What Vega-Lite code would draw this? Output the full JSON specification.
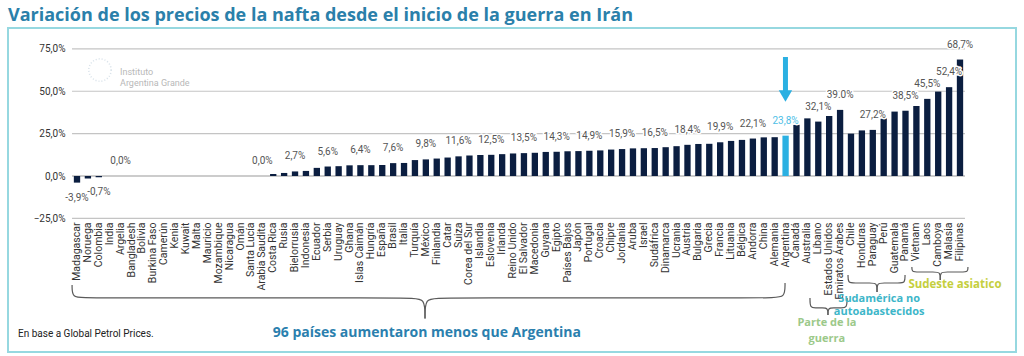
{
  "$schema": "https://vega.github.io/schema/vega-lite/v6.json",
  "width": 1008,
  "height": 324,
  "autosize": {"type": "none"},
  "padding": {"left": 8, "top": 28, "right": 8, "bottom": 4},
  "background": "white",
  "title": {
    "text": "Variación de los precios de la nafta desde el inicio de la guerra en Irán",
    "anchor": "start",
    "frame": "group",
    "font": "Open Sans",
    "fontSize": 18,
    "fontWeight": "bold",
    "color": "#2a80aa",
    "offset": 3
  },
  "config": {
    "view": {"stroke": "#96d8e0", "strokeWidth": 2},
    "axis": {"labelFont": "Roboto", "labelColor": "#333333"}
  },
  "data": {"values": [{}]},
  "datasets": {
    "paises": [
      {"pais": "Madagascar", "valor": -3.9, "etiqueta": "-3,9%"},
      {"pais": "Noruega", "valor": -1.5},
      {"pais": "Colombia", "valor": -0.7, "etiqueta": "-0,7%"},
      {"pais": "India", "valor": 0},
      {"pais": "Argelia", "valor": 0, "etiqueta": "0,0%"},
      {"pais": "Bangladesh", "valor": 0},
      {"pais": "Bolivia", "valor": 0},
      {"pais": "Burkina Faso", "valor": 0},
      {"pais": "Camerún", "valor": 0},
      {"pais": "Kenia", "valor": 0},
      {"pais": "Kuwait", "valor": 0},
      {"pais": "Malta", "valor": 0},
      {"pais": "Mauricio", "valor": 0},
      {"pais": "Mozambique", "valor": 0},
      {"pais": "Nicaragua", "valor": 0},
      {"pais": "Omán", "valor": 0},
      {"pais": "Santa Lucía", "valor": 0},
      {"pais": "Arabia Saudita", "valor": 0, "etiqueta": "0,0%"},
      {"pais": "Costa Rica", "valor": 1.2},
      {"pais": "Rusia", "valor": 1.8},
      {"pais": "Bielorrusia", "valor": 2.7, "etiqueta": "2,7%"},
      {"pais": "Indonesia", "valor": 3.0},
      {"pais": "Ecuador", "valor": 4.8},
      {"pais": "Serbia", "valor": 5.6, "etiqueta": "5,6%"},
      {"pais": "Uruguay", "valor": 5.8},
      {"pais": "Ghana", "valor": 6.3},
      {"pais": "Islas Caimán", "valor": 6.4, "etiqueta": "6,4%"},
      {"pais": "Hungría", "valor": 6.4},
      {"pais": "España", "valor": 6.5},
      {"pais": "Brasil", "valor": 7.6, "etiqueta": "7,6%"},
      {"pais": "Italia", "valor": 7.7},
      {"pais": "Turquía", "valor": 9.4},
      {"pais": "México", "valor": 9.8, "etiqueta": "9,8%"},
      {"pais": "Finlandia", "valor": 10.3},
      {"pais": "Catar", "valor": 10.9},
      {"pais": "Suiza", "valor": 11.6, "etiqueta": "11,6%"},
      {"pais": "Corea del Sur", "valor": 12.1},
      {"pais": "Islandia", "valor": 12.4},
      {"pais": "Eslovenia", "valor": 12.5, "etiqueta": "12,5%"},
      {"pais": "Irlanda", "valor": 12.9},
      {"pais": "Reino Unido", "valor": 13.3},
      {"pais": "El Salvador", "valor": 13.5, "etiqueta": "13,5%"},
      {"pais": "Macedonia", "valor": 13.7},
      {"pais": "Guyana", "valor": 14.2},
      {"pais": "Egipto", "valor": 14.3, "etiqueta": "14,3%"},
      {"pais": "Países Bajos", "valor": 14.6},
      {"pais": "Japón", "valor": 14.7},
      {"pais": "Portugal", "valor": 14.9, "etiqueta": "14,9%"},
      {"pais": "Croacia", "valor": 15.1},
      {"pais": "Chipre", "valor": 15.6},
      {"pais": "Jordania", "valor": 15.9, "etiqueta": "15,9%"},
      {"pais": "Aruba", "valor": 16.3},
      {"pais": "Israel", "valor": 16.4},
      {"pais": "Sudáfrica", "valor": 16.5, "etiqueta": "16,5%"},
      {"pais": "Dinamarca", "valor": 17.0},
      {"pais": "Ucrania", "valor": 17.6},
      {"pais": "Austria", "valor": 18.4, "etiqueta": "18,4%"},
      {"pais": "Bulgaria", "valor": 18.9},
      {"pais": "Grecia", "valor": 19.0},
      {"pais": "Francia", "valor": 19.9, "etiqueta": "19,9%"},
      {"pais": "Lituania", "valor": 20.7},
      {"pais": "Bélgica", "valor": 21.3},
      {"pais": "Andorra", "valor": 22.1, "etiqueta": "22,1%"},
      {"pais": "China", "valor": 22.8},
      {"pais": "Alemania", "valor": 22.9},
      {"pais": "Argentina", "valor": 23.8, "etiqueta": "23,8%"},
      {"pais": "Canadá", "valor": 30.2},
      {"pais": "Australia", "valor": 34.0},
      {"pais": "Líbano", "valor": 32.1, "etiqueta": "32,1%"},
      {"pais": "Estados Unidos", "valor": 35.4},
      {"pais": "Emiratos Árabes", "valor": 39.0, "etiqueta": "39.0%"},
      {"pais": "Chile", "valor": 25.0},
      {"pais": "Honduras", "valor": 26.9},
      {"pais": "Paraguay", "valor": 27.2, "etiqueta": "27,2%"},
      {"pais": "Perú", "valor": 34.0},
      {"pais": "Guatemala", "valor": 38.0},
      {"pais": "Panamá", "valor": 38.5, "etiqueta": "38,5%"},
      {"pais": "Vietnam", "valor": 41.3},
      {"pais": "Laos", "valor": 45.5, "etiqueta": "45,5%"},
      {"pais": "Camboya", "valor": 49.8},
      {"pais": "Malasia", "valor": 52.4, "etiqueta": "52,4%"},
      {"pais": "Filipinas", "valor": 68.7, "etiqueta": "68,7%"}
    ],
    "llaves": [
      {"tramo": "g1", "orden": 1, "i": 0.55, "v": -64.3},
      {"tramo": "g1", "orden": 2, "i": 0.55, "v": -71.9},
      {"tramo": "g1", "orden": 3, "i": 1.75, "v": -71.9},
      {"tramo": "g1", "orden": 4, "i": 31.7, "v": -71.9},
      {"tramo": "g1", "orden": 5, "i": 32.93, "v": -71.9},
      {"tramo": "g1", "orden": 6, "i": 32.93, "v": -84},
      {"tramo": "g2", "orden": 1, "i": 32.93, "v": -84},
      {"tramo": "g2", "orden": 2, "i": 32.93, "v": -71.9},
      {"tramo": "g2", "orden": 3, "i": 34.15, "v": -71.9},
      {"tramo": "g2", "orden": 4, "i": 64.76, "v": -71.9},
      {"tramo": "g2", "orden": 5, "i": 65.96, "v": -71.9},
      {"tramo": "g2", "orden": 6, "i": 65.96, "v": -63.1},
      {"tramo": "p1", "orden": 1, "i": 68.25, "v": -71.9},
      {"tramo": "p1", "orden": 2, "i": 68.25, "v": -77.8},
      {"tramo": "p1", "orden": 3, "i": 68.75, "v": -77.8},
      {"tramo": "p1", "orden": 4, "i": 69.4, "v": -77.8},
      {"tramo": "p1", "orden": 5, "i": 69.9, "v": -77.8},
      {"tramo": "p1", "orden": 6, "i": 69.9, "v": -82},
      {"tramo": "p2", "orden": 1, "i": 69.9, "v": -82},
      {"tramo": "p2", "orden": 2, "i": 69.9, "v": -77.8},
      {"tramo": "p2", "orden": 3, "i": 70.4, "v": -77.8},
      {"tramo": "p2", "orden": 4, "i": 71.15, "v": -77.8},
      {"tramo": "p2", "orden": 5, "i": 71.65, "v": -77.8},
      {"tramo": "p2", "orden": 6, "i": 71.65, "v": -71.9},
      {"tramo": "s1", "orden": 1, "i": 71.74, "v": -58.4},
      {"tramo": "s1", "orden": 2, "i": 71.74, "v": -63.1},
      {"tramo": "s1", "orden": 3, "i": 72.24, "v": -63.1},
      {"tramo": "s1", "orden": 4, "i": 73.9, "v": -63.1},
      {"tramo": "s1", "orden": 5, "i": 74.4, "v": -63.1},
      {"tramo": "s1", "orden": 6, "i": 74.4, "v": -68.4},
      {"tramo": "s2", "orden": 1, "i": 74.4, "v": -68.4},
      {"tramo": "s2", "orden": 2, "i": 74.4, "v": -63.1},
      {"tramo": "s2", "orden": 3, "i": 74.9, "v": -63.1},
      {"tramo": "s2", "orden": 4, "i": 76.47, "v": -63.1},
      {"tramo": "s2", "orden": 5, "i": 76.97, "v": -63.1},
      {"tramo": "s2", "orden": 6, "i": 76.97, "v": -58.4},
      {"tramo": "a1", "orden": 1, "i": 77.6, "v": -53.7},
      {"tramo": "a1", "orden": 2, "i": 77.6, "v": -56.6},
      {"tramo": "a1", "orden": 3, "i": 78.1, "v": -56.6},
      {"tramo": "a1", "orden": 4, "i": 79.7, "v": -56.6},
      {"tramo": "a1", "orden": 5, "i": 80.2, "v": -56.6},
      {"tramo": "a1", "orden": 6, "i": 80.2, "v": -61.3},
      {"tramo": "a2", "orden": 1, "i": 80.2, "v": -61.3},
      {"tramo": "a2", "orden": 2, "i": 80.2, "v": -56.6},
      {"tramo": "a2", "orden": 3, "i": 80.7, "v": -56.6},
      {"tramo": "a2", "orden": 4, "i": 82.24, "v": -56.6},
      {"tramo": "a2", "orden": 5, "i": 82.74, "v": -56.6},
      {"tramo": "a2", "orden": 6, "i": 82.74, "v": -53.7}
    ]
  },
  "layer": [
    {
      "layer": [
        {
          "data": {"values": [{"g": -25}, {"g": 25}, {"g": 50}, {"g": 75}]},
          "mark": {"type": "rule", "color": "#c4c4c4", "strokeWidth": 1.2},
          "encoding": {
            "x": {"datum": 0.545, "type": "quantitative", "scale": {"domain": [-5.329, 87.151], "nice": false, "zero": false}, "axis": null},
            "x2": {"datum": 82.47},
            "y": {
              "field": "g",
              "type": "quantitative",
              "scale": {"domain": [-103.8, 87.3], "nice": false, "zero": false},
              "axis": {
                "values": [-25, 0, 25, 50, 75],
                "labelExpr": "replace(format(datum.value, '.1f'), '.', ',') + '%'",
                "offset": -60,
                "title": null,
                "labelFontSize": 10,
                "labelPadding": 3,
                "tickSize": 0,
                "ticks": false,
                "domain": false,
                "grid": false
              }
            }
          }
        },
        {
          "mark": {"type": "rule", "color": "#9a9a9a", "strokeWidth": 1.2},
          "encoding": {
            "x": {"datum": 0.545, "type": "quantitative"},
            "x2": {"datum": 82.47},
            "y": {"datum": 0, "type": "quantitative"}
          }
        },
        {
          "data": {"name": "llaves"},
          "mark": {"type": "line", "interpolate": "basis", "color": "#5a5a5a", "strokeWidth": 1.2},
          "encoding": {
            "x": {"field": "i", "type": "quantitative"},
            "y": {"field": "v", "type": "quantitative"},
            "detail": {"field": "tramo"},
            "order": {"field": "orden", "type": "quantitative"}
          }
        },
        {
          "mark": {"type": "rule", "color": "#2bb0e2", "strokeWidth": 5},
          "encoding": {
            "x": {"datum": 66, "type": "quantitative"},
            "y": {"datum": 70.2, "type": "quantitative"},
            "y2": {"datum": 48.5}
          }
        },
        {
          "mark": {"type": "point", "shape": "triangle-down", "filled": true, "color": "#2bb0e2", "size": 180, "opacity": 1},
          "encoding": {
            "x": {"datum": 66, "type": "quantitative"},
            "y": {"datum": 47.2, "type": "quantitative"}
          }
        },
        {
          "mark": {"type": "point", "shape": "circle", "filled": false, "stroke": "#c9d7e2", "strokeWidth": 1.5, "strokeDash": [1, 2], "size": 500},
          "encoding": {
            "x": {"datum": 3.11, "type": "quantitative"},
            "y": {"datum": 62.5, "type": "quantitative"}
          }
        },
        {
          "mark": {"type": "text", "text": ["Instituto", "Argentina Grande"], "align": "left", "baseline": "middle", "font": "Roboto", "fontSize": 9, "color": "#b8b8b8", "lineHeight": 11},
          "encoding": {
            "x": {"datum": 4.95, "type": "quantitative"},
            "y": {"datum": 61.6, "type": "quantitative"}
          }
        },
        {
          "mark": {"type": "text", "text": "96 países aumentaron menos que Argentina", "align": "center", "baseline": "middle", "font": "Open Sans", "fontSize": 14, "fontWeight": "bold", "color": "#2b7fae"},
          "encoding": {
            "x": {"datum": 33.1, "type": "quantitative"},
            "y": {"datum": -92.6, "type": "quantitative"}
          }
        },
        {
          "mark": {"type": "text", "text": "En base a Global Petrol Prices.", "align": "left", "baseline": "middle", "font": "Roboto", "fontSize": 10, "color": "#222222"},
          "encoding": {
            "x": {"datum": -4.41, "type": "quantitative"},
            "y": {"datum": -93.2, "type": "quantitative"}
          }
        },
        {
          "mark": {"type": "text", "text": ["Parte de la", "guerra"], "align": "center", "baseline": "middle", "font": "Open Sans", "fontSize": 11, "fontWeight": "bold", "color": "#9cc98a", "lineHeight": 16},
          "encoding": {
            "x": {"datum": 69.8, "type": "quantitative"},
            "y": {"datum": -86.7, "type": "quantitative"}
          }
        },
        {
          "mark": {"type": "text", "text": ["Sudamérica no", "autoabastecidos"], "align": "center", "baseline": "middle", "font": "Open Sans", "fontSize": 11, "fontWeight": "bold", "color": "#3db6c9", "lineHeight": 13},
          "encoding": {
            "x": {"datum": 74.6, "type": "quantitative"},
            "y": {"datum": -72.5, "type": "quantitative"}
          }
        },
        {
          "mark": {"type": "text", "text": "Sudeste asiatico", "align": "center", "baseline": "middle", "font": "Open Sans", "fontSize": 11.5, "fontWeight": "bold", "color": "#c5cf3e"},
          "encoding": {
            "x": {"datum": 81.55, "type": "quantitative"},
            "y": {"datum": -64.3, "type": "quantitative"}
          }
        }
      ]
    },
    {
      "data": {"name": "paises"},
      "encoding": {
        "x": {
          "field": "pais",
          "type": "nominal",
          "sort": null,
          "scale": {"range": [65.84, 955.16], "paddingInner": 0.42, "paddingOuter": 0},
          "axis": {
            "orient": "bottom",
            "offset": -132,
            "title": null,
            "labelAngle": -90,
            "labelAlign": "right",
            "labelBaseline": "middle",
            "labelFontSize": 10.5,
            "labelPadding": 2,
            "labelOverlap": false,
            "labelLimit": 200,
            "domain": false,
            "ticks": false,
            "grid": false
          }
        },
        "y": {"field": "valor", "type": "quantitative"}
      },
      "layer": [
        {
          "mark": {"type": "bar"},
          "encoding": {
            "color": {"condition": {"test": "datum.pais === 'Argentina'", "value": "#2bb0e2"}, "value": "#0b1e40"}
          }
        },
        {
          "transform": [{"filter": "datum.etiqueta != null && datum.valor >= 0"}],
          "mark": {"type": "text", "baseline": "middle", "dy": -15, "font": "Roboto", "fontSize": 10, "stroke": "white", "strokeWidth": 3, "strokeJoin": "round", "fill": "white"},
          "encoding": {"text": {"field": "etiqueta"}}
        },
        {
          "transform": [{"filter": "datum.etiqueta != null && datum.valor >= 0"}],
          "mark": {"type": "text", "baseline": "middle", "dy": -15, "font": "Roboto", "fontSize": 10},
          "encoding": {
            "text": {"field": "etiqueta"},
            "color": {"condition": {"test": "datum.pais === 'Argentina'", "value": "#4ec0e6"}, "value": "#555555"}
          }
        },
        {
          "transform": [{"filter": "datum.etiqueta != null && datum.valor < 0"}],
          "mark": {"type": "text", "baseline": "middle", "dy": 15, "font": "Roboto", "fontSize": 10, "stroke": "white", "strokeWidth": 3, "strokeJoin": "round", "fill": "white"},
          "encoding": {"text": {"field": "etiqueta"}}
        },
        {
          "transform": [{"filter": "datum.etiqueta != null && datum.valor < 0"}],
          "mark": {"type": "text", "baseline": "middle", "dy": 15, "font": "Roboto", "fontSize": 10, "color": "#555555"},
          "encoding": {"text": {"field": "etiqueta"}}
        }
      ]
    }
  ],
  "resolve": {"scale": {"x": "independent"}}
}
